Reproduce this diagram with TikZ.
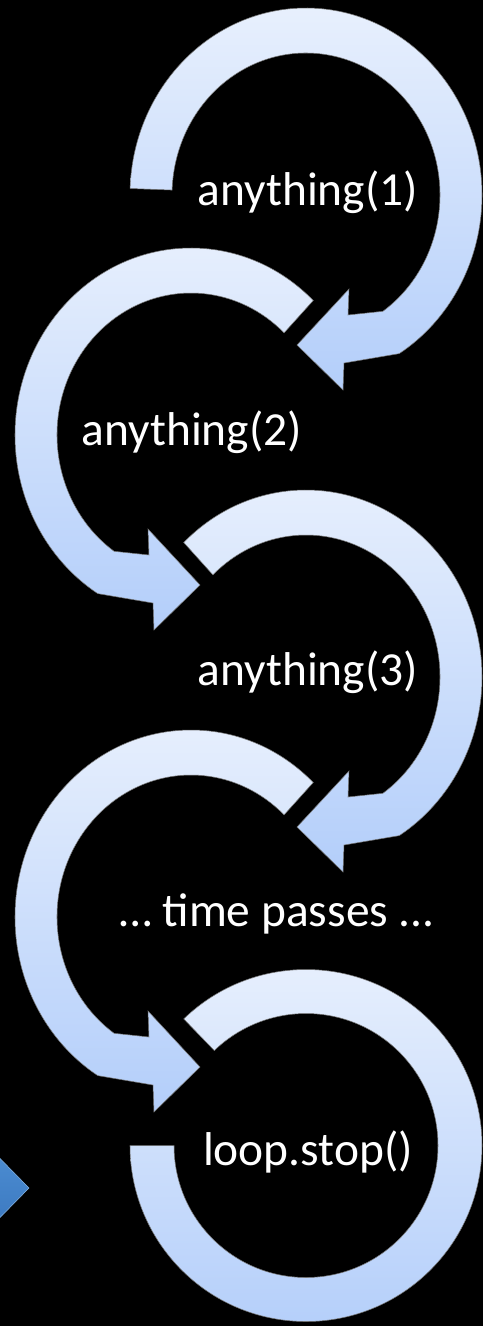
\documentclass[tikz,border=0pt]{standalone}
\usepackage{fontspec}
\setmainfont{Carlito}
\usepackage{xcolor}
\definecolor{ringTop}{HTML}{E8F0FD}
\definecolor{ringBottom}{HTML}{B3CEFA}
\definecolor{chevTop}{HTML}{5092D6}
\definecolor{chevBottom}{HTML}{3874BC}

\begin{document}
\begin{tikzpicture}[x=0.02cm, y=0.02cm,
  ringband/.style={top color=ringTop, bottom color=ringBottom, draw=black!55, line width=0.3pt},
  looptext/.style={text=white, font=\fontsize{27}{32}\selectfont, anchor=base, inner sep=0pt},
  pics/ringarrow/.style={code={
    \path[ringband] (#1:176 and 187) arc[start angle=#1, end angle=-58, x radius=176, y radius=187]
      -- (38,-168) -- (37,-195) -- (-9,-150) -- (43,-94) -- (42,-120)
      -- (-55:134 and 142) arc[start angle=-55, end angle=#1, x radius=134, y radius=142] -- cycle;
  }}]
  \useasboundingbox (0,0) rectangle (483,-1326);
  \fill[black] (0,0) rectangle (483,-1326);
  \clip (0,0) rectangle (483,-1326);

  % loop rings
  \pic at (306,-195) {ringarrow=178};
  \pic[xscale=-1] at (191,-435) {ringarrow=134};
  \pic at (306,-677) {ringarrow=134};
  \pic[xscale=-1] at (191,-917) {ringarrow=134};
  \path[ringband] (306,-1145.5) ++(134:176) arc[start angle=134, end angle=-180, radius=176]
    -- ++(44,0) arc[start angle=180, end angle=494, radius=132] -- cycle;

  % entry chevron
  \path[top color=chevTop, bottom color=chevBottom, draw=chevTop!70!white, line width=0.3pt]
    (-25,-1133) -- (29,-1188) -- (-25,-1243) -- cycle;

  % labels
  \node[looptext] (call1) at (308,-205) {anything(1)};
  \node[looptext] (call2) at (192,-445) {anything(2)};
  \node[looptext] (call3) at (308,-685) {anything(3)};
  \node[looptext] (wait) at (277,-926) {… time passes ...};
  \node[looptext] (stop) at (308,-1165) {loop.stop()};
\end{tikzpicture}
\end{document}
